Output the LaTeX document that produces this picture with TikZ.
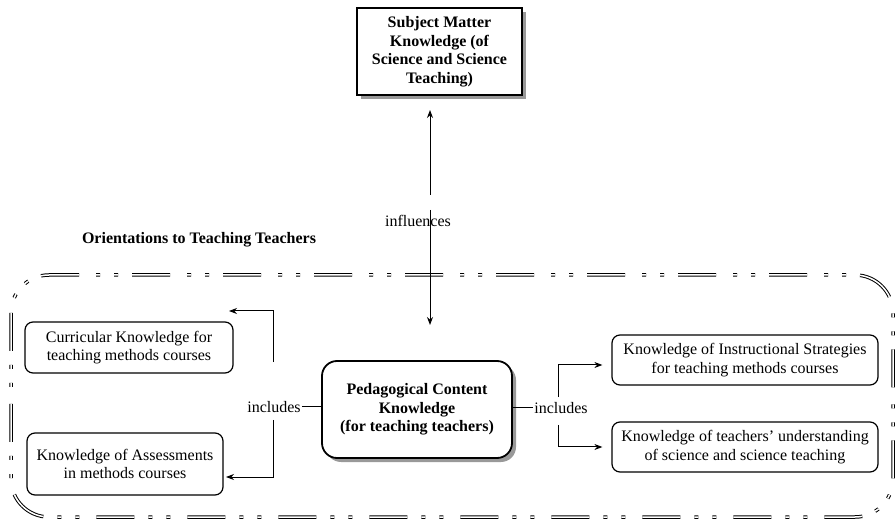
\documentclass[tikz,border=0pt]{standalone}
\usepackage{fontspec}
\setmainfont{Liberation Serif}
\usetikzlibrary{arrows.meta,shadows,positioning}

\begin{document}
\begin{tikzpicture}[x=1pt,y=-1pt,
    every node/.style={font=\fontsize{16}{18.5}\selectfont},
    kbox/.style={draw,rounded corners=8pt,line width=1.2pt,align=center,inner sep=0pt},
    bigbox/.style={draw,fill=white,line width=1.8pt,align=center,inner sep=0pt,
      font=\bfseries\fontsize{16}{18.5}\selectfont,
      drop shadow={shadow xshift=4pt,shadow yshift=-4pt,fill=black!40,opacity=1}},
    frame/.style={double,double distance=1.5pt,line width=1pt,rounded corners=38pt,
      dash pattern=on 38pt off 14pt on 4pt off 14pt on 4pt off 17pt},
    conn/.style={line width=1pt},
    arr/.style={conn,-{Stealth[length=8pt,width=6pt]}}]
  \useasboundingbox (0,0) rectangle (895,521);
  % frame round the orientations
  \draw[frame] (11,275) rectangle (893,517);
  \node[font=\bfseries\fontsize{16}{18.5}\selectfont] (orient) at (199,240) {Orientations to Teaching Teachers};
  % boxes
  \node[bigbox,minimum width=165pt,minimum height=87pt] (smk) at (439.5,51.5)
    {Subject Matter\\Knowledge (of\\Science and Science\\Teaching)};
  \node[bigbox,rounded corners=15pt,minimum width=190pt,minimum height=97pt] (pck) at (417,409.5)
    {Pedagogical Content\\Knowledge\\(for teaching teachers)};
  \node[kbox,minimum width=208pt,minimum height=51pt] (curr) at (129,347.5)
    {Curricular Knowledge for\\teaching methods courses};
  \node[kbox,minimum width=196pt,minimum height=62pt] (assess) at (125,464)
    {Knowledge of Assessments\\in methods courses};
  \node[kbox,minimum width=266pt,minimum height=50pt] (instr) at (745,360)
    {Knowledge of Instructional Strategies\\for teaching methods courses};
  \node[kbox,minimum width=266pt,minimum height=50pt] (undst) at (745,447)
    {Knowledge of teachers' understanding\\of science and science teaching};
  % labels on the connectors
  \node (infl) at (418,221) {influences};
  \node[inner sep=1pt] (inclL) at (274,407) {includes};
  \node[inner sep=1pt] (inclR) at (561,408) {includes};
  \coordinate (topL) at (229,311);
  \coordinate (botL) at (226,477);
  \coordinate (smkin) at (430,110);
  \coordinate (pckin) at (430,325);
  % connectors
  \draw[arr] (infl.north -| smkin) ++(0,-17) -- (smkin);
  \draw[arr] (infl.north -| pckin) ++(0,-2) -- (pckin);
  \draw[conn] (inclL.east) -- (inclL.east -| pck.west);
  \draw[conn] (inclR.west -| pck.east) -- (inclR.west);
  \draw[arr] ([shift={(-1pt,38pt)}]inclL.north) |- (topL);
  \draw[arr] ([shift={(-1pt,-6pt)}]inclL.south) |- (botL);
  \draw[arr] ([shift={(-3pt,4pt)}]inclR.north) |- ([shift={(-9pt,-5pt)}]instr.west);
  \draw[arr] ([shift={(-3pt,-10pt)}]inclR.south) |- ([xshift=-9pt]undst.west);
\end{tikzpicture}
\end{document}
